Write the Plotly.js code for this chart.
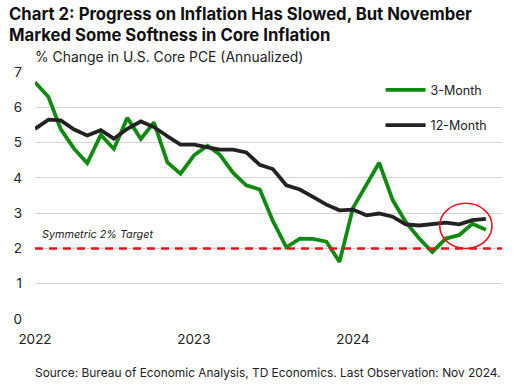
<!DOCTYPE html>
<html>
<head>
<meta charset="utf-8">
<script src="https://cdn.plot.ly/plotly-3.0.1.min.js"></script>
<style>html,body{margin:0;padding:0;background:#fff;}#chart{width:516px;height:385px;}</style>
</head>
<body>
<div id="chart"></div>
<script>
const months = [
 '2022-01-01','2022-02-01','2022-03-01','2022-04-01','2022-05-01','2022-06-01','2022-07-01','2022-08-01','2022-09-01','2022-10-01','2022-11-01','2022-12-01',
 '2023-01-01','2023-02-01','2023-03-01','2023-04-01','2023-05-01','2023-06-01','2023-07-01','2023-08-01','2023-09-01','2023-10-01','2023-11-01','2023-12-01',
 '2024-01-01','2024-02-01','2024-03-01','2024-04-01','2024-05-01','2024-06-01','2024-07-01','2024-08-01','2024-09-01','2024-10-01','2024-11-01'
];
const threeMonth = [6.71,6.29,5.38,4.82,4.42,5.22,4.82,5.70,5.10,5.57,4.44,4.12,
 4.64,4.91,4.66,4.14,3.79,3.67,2.78,2.03,2.28,2.27,2.19,1.62,
 3.15,3.81,4.43,3.37,2.75,2.28,1.90,2.28,2.38,2.70,2.53];
const twelveMonth = [5.39,5.65,5.63,5.37,5.20,5.35,5.11,5.39,5.60,5.44,5.18,4.94,
 4.94,4.87,4.80,4.80,4.72,4.37,4.25,3.79,3.67,3.46,3.24,3.08,
 3.10,2.94,2.99,2.90,2.68,2.65,2.68,2.73,2.68,2.80,2.84];
const seriesNames = ['3-Month','12-Month'];
const targetValue = 2;
const targetLabel = 'Symmetric 2% Target';
const yTicks = [0,1,2,3,4,5,6,7];
const xTickVals = ['2022-01-01','2023-01-01','2024-01-01'];
const xTickText = ['2022','2023','2024'];
const titleLine1 = 'Chart 2: Progress on Inflation Has Slowed, But November';
const titleLine2 = 'Marked Some Softness in Core Inflation';
const subtitleText = '% Change in U.S. Core PCE (Annualized)';
const sourceText = 'Source: Bureau of Economic Analysis, TD Economics. Last Observation: Nov 2024.';
const highlightX = ['2024-07-18','2024-11-15'];
const highlightY = [2.0, 3.28];

const FONT = 'Inter, "Open Sans", sans-serif';

const traces = [
 {x: months, y: threeMonth, name: seriesNames[0], type: 'scatter', mode: 'lines',
  legendgroup: 'a', line: {color: '#108a10', width: 3.8}},
 {x: months, y: twelveMonth, name: seriesNames[1], type: 'scatter', mode: 'lines',
  legendgroup: 'b', line: {color: '#222222', width: 3.8}}
];

const layout = {
 width: 516, height: 385,
 margin: {l: 35, r: 14, t: 72, b: 66},
 paper_bgcolor: '#fff', plot_bgcolor: '#fff',
 font: {family: FONT, color: '#222', size: 13},
 xaxis: {type: 'date', range: ['2022-01-01','2024-12-08'],
  tickvals: xTickVals, ticktext: xTickText, showgrid: false, zeroline: false,
  showline: false, ticks: '', tickfont: {size: 13.5, color: '#222'},
  ticklabelstandoff: 10, fixedrange: true},
 yaxis: {range: [0,7], tickvals: yTicks, showgrid: true, gridcolor: '#d3d3d3', gridwidth: 1,
  zeroline: false, showline: false, ticks: '', tickfont: {size: 13.5, color: '#222'},
  ticklabelstandoff: 12, fixedrange: true},
 showlegend: true,
 legend: {x: 0.74, y: 0.987, xanchor: 'left', yanchor: 'top', bgcolor: 'rgba(0,0,0,0)',
  font: {size: 12.5, color: '#222'}, tracegroupgap: 16, itemwidth: 40},
 shapes: [
  {type: 'line', xref: 'paper', x0: 0, x1: 1, yref: 'y', y0: targetValue, y1: targetValue,
   line: {color: '#e8141b', width: 2.4, dash: '8px,6px'}},
  {type: 'circle', xref: 'x', yref: 'y', x0: highlightX[0], x1: highlightX[1],
   y0: highlightY[0], y1: highlightY[1], line: {color: '#e8141b', width: 1.6}}
 ],
 annotations: [
  {text: '<b>' + titleLine1 + '</b>', xref: 'paper', yref: 'paper', x: -0.06, y: 1.2348,
   xanchor: 'left', yanchor: 'middle', showarrow: false, font: {size: 16.7, color: '#111'}},
  {text: '<b>' + titleLine2 + '</b>', xref: 'paper', yref: 'paper', x: -0.06, y: 1.1498,
   xanchor: 'left', yanchor: 'middle', showarrow: false, font: {size: 16.7, color: '#111'}},
  {text: subtitleText, xref: 'paper', yref: 'paper', x: -0.004, y: 1.0607,
   xanchor: 'left', yanchor: 'middle', showarrow: false, font: {size: 13.9, color: '#222'}},
  {text: '<i>' + targetLabel + '</i>', xref: 'paper', yref: 'y', x: 0.01, y: targetValue,
   yshift: 5, xanchor: 'left', yanchor: 'bottom', showarrow: false,
   font: {size: 10.8, color: '#222'}},
  {text: sourceText, xref: 'paper', yref: 'paper', x: 0.499, y: -0.2186,
   xanchor: 'center', yanchor: 'middle', showarrow: false, font: {size: 11.9, color: '#222'}}
 ]
};

Plotly.newPlot('chart', traces, layout, {displayModeBar: false, staticPlot: true});
</script>
</body>
</html>
